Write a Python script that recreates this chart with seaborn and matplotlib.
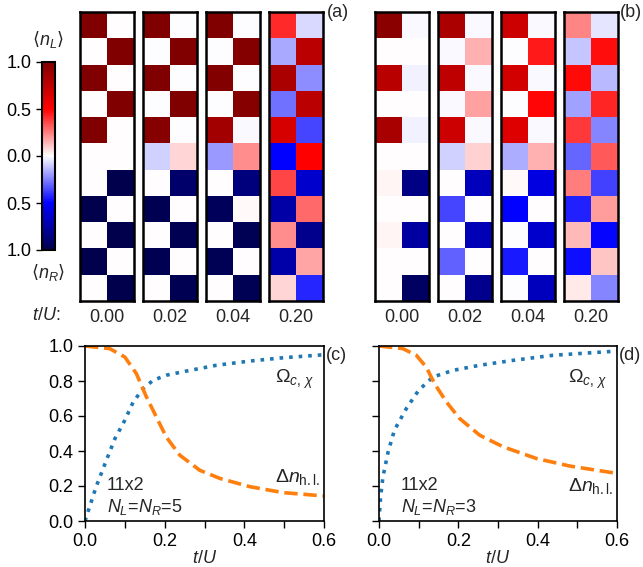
import numpy as np
import pandas as pd
import matplotlib
matplotlib.use("Agg")
import matplotlib.pyplot as plt
import seaborn as sns

sns.set_style("ticks")
plt.rcParams['font.family'] = ['Liberation Sans', 'DejaVu Sans']
plt.rcParams['mathtext.fontset'] = 'custom'
plt.rcParams['mathtext.rm'] = 'Liberation Sans'
plt.rcParams['mathtext.it'] = 'Liberation Sans:italic'
plt.rcParams['mathtext.bf'] = 'Liberation Sans:bold'
plt.rcParams['axes.edgecolor'] = 'black'
plt.rcParams['xtick.color'] = 'black'
plt.rcParams['ytick.color'] = 'black'

# ---------------- data ----------------
times = ["0.00", "0.02", "0.04", "0.20"]

# panel (a): 11 rows x 2 columns, signed occupation (n_L positive, n_R negative)
a_t000 = [[1, 0], [0, 1], [1, 0], [0, 1], [1, 0], [0, 0],
          [0, -1], [-1, 0], [0, -1], [-1, 0], [0, -1]]
a_t002 = [[1, -0.005], [-0.005, 1], [1, -0.005], [-0.005, 1], [0.97, -0.005], [-0.09, 0.08],
          [0.005, -0.91], [-0.98, 0.005], [0.005, -0.98], [-0.98, 0.005], [0.005, -0.98]]
a_t004 = [[1.0, -0.005], [-0.005, 0.98], [0.99, -0.005], [-0.005, 0.97], [0.86, -0.01], [-0.2, 0.225],
          [0.005, -0.86], [-0.96, 0.01], [0.005, -0.97], [-0.97, 0.005], [0.005, -0.97]]
a_t020 = [[0.42, -0.075], [-0.17, 0.77], [0.83, -0.225], [-0.275, 0.77], [0.66, -0.365], [-0.5, 0.5],
          [0.365, -0.64], [-0.75, 0.29], [0.225, -0.82], [-0.74, 0.175], [0.085, -0.425]]

# panel (b)
b_t000 = [[0.955, -0.01], [0.005, 0.005], [0.78, -0.03], [0.005, 0.005], [0.84, -0.025], [0.005, 0.005],
          [0.02, -0.84], [0.005, 0.005], [0.02, -0.76], [0.005, 0.005], [0.005, -0.94]]
b_t002 = [[0.83, -0.01], [-0.01, 0.15], [0.75, -0.01], [-0.01, 0.185], [0.70, -0.01], [-0.09, 0.09],
          [0.005, -0.68], [-0.36, 0.005], [0.005, -0.70], [-0.31, 0.005], [0.005, -0.82]]
b_t004 = [[0.70, -0.01], [-0.005, 0.45], [0.665, -0.01], [-0.005, 0.49], [0.63, -0.015], [-0.16, 0.15],
          [0.01, -0.585], [-0.5, 0.005], [-0.005, -0.64], [-0.45, 0.005], [-0.005, -0.68]]
b_t020 = [[0.235, -0.05], [-0.11, 0.47], [0.48, -0.14], [-0.185, 0.425], [0.385, -0.235], [-0.3, 0.325],
          [0.25, -0.375], [-0.435, 0.19], [0.14, -0.49], [-0.475, 0.11], [0.04, -0.235]]

panel_a = [a_t000, a_t002, a_t004, a_t020]
panel_b = [b_t000, b_t002, b_t004, b_t020]

# panel (c): 11x2, N_L=N_R=5
c_t_omega = [0, 0.0075, 0.028, 0.049, 0.075, 0.1, 0.121, 0.146, 0.171, 0.204, 0.255, 0.33, 0.414, 0.498, 0.6]
c_omega = [0, 0.053, 0.196, 0.32, 0.47, 0.576, 0.68, 0.757, 0.804, 0.833, 0.857, 0.89, 0.914, 0.933, 0.95]
c_t_dn = [0, 0.062, 0.1, 0.129, 0.154, 0.179, 0.204, 0.238, 0.288, 0.339, 0.414, 0.498, 0.6]
c_dn = [1.0, 0.985, 0.937, 0.842, 0.71, 0.595, 0.48, 0.376, 0.29, 0.243, 0.196, 0.162, 0.143]

# panel (d): 11x2, N_L=N_R=3
d_t_omega = [0, 0.004, 0.01, 0.023, 0.039, 0.069, 0.1, 0.136, 0.187, 0.254, 0.338, 0.439, 0.6]
d_omega = [0, 0.139, 0.253, 0.395, 0.52, 0.643, 0.747, 0.823, 0.861, 0.89, 0.918, 0.947, 0.971]
d_t_dn = [0, 0.06, 0.094, 0.119, 0.14, 0.17, 0.203, 0.254, 0.313, 0.397, 0.481, 0.6]
d_dn = [1.0, 0.985, 0.947, 0.88, 0.785, 0.68, 0.586, 0.49, 0.424, 0.357, 0.314, 0.272]

# ---------------- layout helpers ----------------
W, H = 643, 567
fig = plt.figure(figsize=(W / 100, H / 100), dpi=100)


def px_axes(x0, y0, x1, y1):
    return fig.add_axes([x0 / W, 1 - y1 / H, (x1 - x0) / W, (y1 - y0) / H])


FS = 13
hm_top, hm_bot = 12, 301
a_left = [80, 143, 206, 269]
b_left = [375, 438, 501, 564]
hm_w = 54

mappable = None
for lefts, panel in [(a_left, panel_a), (b_left, panel_b)]:
    for x0, data, tl in zip(lefts, panel, times):
        ax = px_axes(x0, hm_top, x0 + hm_w, hm_bot)
        sns.heatmap(np.array(data), cmap='seismic', vmin=-1, vmax=1, cbar=False, ax=ax)
        mappable = ax.collections[0]
        ax.set_xticks([])
        ax.set_yticks([])
        for s in ax.spines.values():
            s.set_visible(True)
            s.set_color('black')
            s.set_linewidth(1.8)
        ax.set_xlabel(tl, fontsize=FS, labelpad=6)

fig.text(46 / W, 1 - 316 / H, "$t/U$:", fontsize=FS, ha='center', va='center')
fig.text(327 / W, 1 - 4 / H, "(a)", fontsize=FS, ha='left', va='top')
fig.text(620 / W, 1 - 4 / H, "(b)", fontsize=FS, ha='left', va='top')

# colorbar
cax = px_axes(42, 62, 55, 250)
cb = fig.colorbar(mappable, cax=cax)
cax.yaxis.set_ticks_position('left')
cb.set_ticks([-1, -0.5, 0, 0.5, 1])
cb.set_ticklabels(["1.0", "0.5", "0.0", "0.5", "1.0"])
cax.tick_params(labelsize=FS, length=4, width=1, direction='out')
cb.outline.set_linewidth(1.5)
cb.outline.set_edgecolor('black')
fig.text(48 / W, 1 - 39 / H, "\u27e8$n_L$\u27e9", fontsize=FS, ha='center', va='center',
         family=['DejaVu Sans', 'Liberation Sans'])
fig.text(48 / W, 1 - 273 / H, "\u27e8$n_R$\u27e9", fontsize=FS, ha='center', va='center',
         family=['DejaVu Sans', 'Liberation Sans'])

# line panels
blue = '#1f77b4'
orange = '#ff7f0e'
for (x0, x1), t_om, om, t_dn, dn, npart, lab, ylab in [
        ((85, 324), c_t_omega, c_omega, c_t_dn, c_dn, 5, "(c)", True),
        ((379, 617), d_t_omega, d_omega, d_t_dn, d_dn, 3, "(d)", False)]:
    ax = px_axes(x0, 346, x1, 521)
    sns.lineplot(x=t_om, y=om, ax=ax, color=blue, linestyle=':', linewidth=2.6)
    sns.lineplot(x=t_dn, y=dn, ax=ax, color=orange, linestyle='--', linewidth=2.6)
    ax.set_xlim(0, 0.6)
    ax.set_ylim(0, 1.0)
    ax.set_xticks([0, 0.2, 0.4, 0.6])
    ax.set_xticklabels(["0.0", "0.2", "0.4", "0.6"])
    ax.set_xticks([0.1, 0.3, 0.5], minor=True)
    ax.set_yticks([0, 0.2, 0.4, 0.6, 0.8, 1.0])
    if ylab:
        ax.set_yticklabels(["0.0", "0.2", "0.4", "0.6", "0.8", "1.0"])
    else:
        ax.set_yticklabels([])
    ax.tick_params(which='both', labelsize=FS, length=5, width=1, direction='out')
    for s in ax.spines.values():
        s.set_visible(True)
        s.set_color('black')
        s.set_linewidth(1.2)
    ax.set_xlabel("$t/U$", fontsize=FS, labelpad=0)
    ax.text(0.477, 0.81, r"$\Omega_{c,\,\chi}$", fontsize=14, ha='left', va='center')
    ax.text(0.477, 0.25 if ylab else 0.2, r"$\Delta n_{\mathrm{h.l.}}$", fontsize=14, ha='left', va='center')
    ax.text(0.055, 0.2, "11x2", fontsize=FS, ha='left', va='center')
    ax.text(0.055, 0.08, "$N_L$=$N_R$=%d" % npart, fontsize=FS, ha='left', va='center')
    fig.text((x1 + 2) / W, 1 - 347 / H, lab, fontsize=FS, ha='left', va='top')

fig.savefig("out.png", dpi=100)
